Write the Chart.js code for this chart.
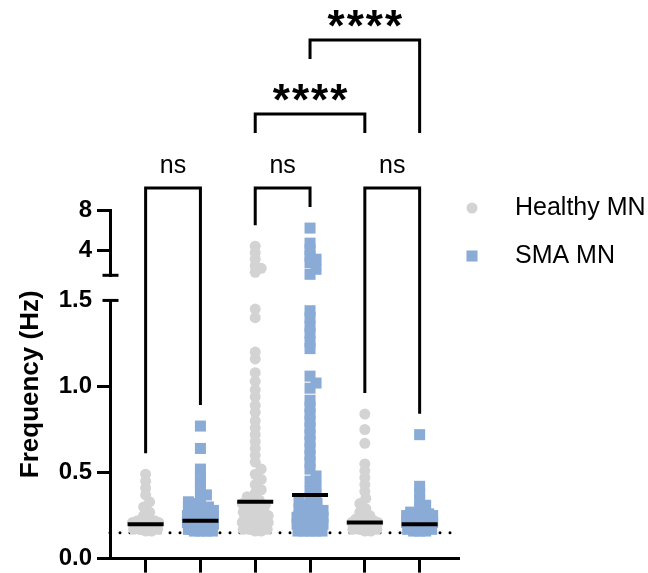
<!DOCTYPE html>
<html lang="en">
<head>
<meta charset="UTF-8">
<title>MN firing frequency</title>
<script src="https://cdn.jsdelivr.net/npm/chart.js@4.4.1/dist/chart.umd.min.js"></script>
<style>
    html, body { margin: 0; background: #ffffff; overflow: hidden; }
    /* 5px taller than the window: the bottom tick label reserves that much below the x axis */
    .chart-box { position: relative; width: 648px; height: 578px; }
</style>
</head>
<body>
<div class="chart-box"><canvas id="freqChart"></canvas></div>
<script>
// Legend entries and which series each x group belongs to
const seriesNames = ['Healthy MN', 'SMA MN'];
const groupSeries = [0, 1, 0, 1, 0, 1];

// Frequency (Hz) of each cell
const healthy1 = [0.49, 0.45, 0.41, 0.37, 0.33, 0.30, 0.27, 0.25, 0.23, 0.22, 0.22, 0.21, 0.21,
    0.20, 0.20, 0.20, 0.19, 0.19, 0.19, 0.18, 0.18, 0.18, 0.18, 0.17, 0.17, 0.17, 0.17, 0.17, 0.16, 0.16];
const sma1 = [0.77, 0.64, 0.52, 0.48, 0.44, 0.40, 0.37, 0.35, 0.33, 0.32, 0.31, 0.30, 0.29, 0.28, 0.28,
    0.27, 0.27, 0.26, 0.26, 0.26, 0.25, 0.25, 0.25, 0.24, 0.24, 0.24, 0.24, 0.23, 0.23, 0.23, 0.23,
    0.22, 0.22, 0.22, 0.22, 0.21, 0.21, 0.21, 0.21, 0.20, 0.20, 0.20, 0.20, 0.20, 0.19, 0.19, 0.19,
    0.19, 0.19, 0.18, 0.18, 0.18, 0.18, 0.18, 0.17, 0.17, 0.17, 0.17, 0.17, 0.16, 0.16, 0.16, 0.16];
const healthy2 = [4.4, 3.75, 3.1, 2.45, 2.2, 1.8,
    1.45, 1.40, 1.20, 1.16, 1.08, 1.03, 0.98, 0.94, 0.89, 0.85, 0.80, 0.76, 0.72, 0.68, 0.64, 0.60,
    0.56, 0.52, 0.49, 0.46, 0.43, 0.40, 0.38, 0.36, 0.34, 0.33, 0.32, 0.31, 0.30, 0.29, 0.28, 0.27,
    0.27, 0.26, 0.26, 0.25, 0.25, 0.24, 0.24, 0.24, 0.23, 0.23, 0.23, 0.22, 0.22, 0.22, 0.21, 0.21,
    0.21, 0.20, 0.20, 0.20, 0.19, 0.19, 0.19, 0.18, 0.18, 0.18, 0.17, 0.17, 0.17, 0.16, 0.16];
const sma2 = [6.2, 4.7, 4.05, 3.4, 3.1, 2.75, 2.1, 1.6,
    1.44, 1.40, 1.35, 1.31, 1.26, 1.22, 1.06, 1.02, 0.99, 0.92, 0.88, 0.84, 0.80, 0.76, 0.72, 0.68,
    0.64, 0.60, 0.56, 0.52, 0.48, 0.45, 0.42, 0.39, 0.37, 0.35, 0.33, 0.32, 0.31, 0.30, 0.29, 0.28,
    0.27, 0.27, 0.26, 0.26, 0.25, 0.25, 0.25, 0.24, 0.24, 0.24, 0.23, 0.23, 0.23, 0.23, 0.22, 0.22,
    0.22, 0.22, 0.21, 0.21, 0.21, 0.21, 0.20, 0.20, 0.20, 0.20, 0.20, 0.19, 0.19, 0.19, 0.19, 0.19,
    0.18, 0.18, 0.18, 0.18, 0.18, 0.17, 0.17, 0.17, 0.17, 0.17, 0.16, 0.16, 0.16, 0.16, 0.16];
const healthy3 = [0.84, 0.75, 0.67, 0.55, 0.51, 0.47, 0.43, 0.39, 0.35, 0.32, 0.29, 0.27, 0.25,
    0.24, 0.23, 0.22, 0.22, 0.21, 0.21, 0.20, 0.20, 0.20, 0.19, 0.19, 0.19, 0.18, 0.18, 0.18,
    0.17, 0.17, 0.17, 0.16, 0.16];
const sma3 = [0.72, 0.42, 0.38, 0.34, 0.31, 0.29, 0.27, 0.26, 0.25, 0.25, 0.24, 0.24, 0.24, 0.23,
    0.23, 0.23, 0.22, 0.22, 0.22, 0.22, 0.21, 0.21, 0.21, 0.21, 0.20, 0.20, 0.20, 0.20, 0.19, 0.19,
    0.19, 0.19, 0.18, 0.18, 0.18, 0.18, 0.17, 0.17, 0.17, 0.17, 0.16, 0.16, 0.16];
const groupValues = [healthy1, sma1, healthy2, sma2, healthy3, sma3];

// Median of each group (black bars)
const medians = [0.20, 0.22, 0.33, 0.37, 0.21, 0.20];

// Dotted detection limit
const detectionLimit = 0.15;

// Broken y axis: lower part 0-1.5, upper part 1.5-8
const breakValue = 1.5;
const lowerTicks = [0, 0.5, 1.0, 1.5];
const upperTicks = [1.5, 4, 8];

// Multiple comparisons: groups compared, bracket level and result
const compareA = [1, 3, 5, 3, 4];
const compareB = [2, 4, 6, 5, 6];
const compareLevel = [0, 0, 0, 1, 2];
const compareLabel = ['ns', 'ns', 'ns', '****', '****'];

const colors = ['#d3d3d3', '#8aabd6'];
const X_MIN = 0.35;
const X_MAX = 6.7;
const FONT = "'Liberation Sans', Arial, Helvetica, sans-serif";

Chart.defaults.font.family = FONT;
Chart.defaults.color = '#000';

// pixel y of a value on whichever part of the broken axis it falls
function yPixel(chart, v) {
    return v > breakValue ? chart.scales.yTop.getPixelForValue(v) : chart.scales.y.getPixelForValue(v);
}

// Spread the points of each group sideways so they do not sit on top of each other
function swarm(chart) {
    const rowPx = 6, colPx = 6, maxSpread = 13;
    const xs = chart.scales.x;
    const pxPerGroup = xs.getPixelForValue(2) - xs.getPixelForValue(1);
    const low = [[], []];
    const high = [[], []];

    groupValues.forEach((vals, gi) => {
        const placed = [];
        vals.slice().sort((a, b) => a - b).forEach(v => {
            const py = yPixel(chart, v);
            const near = placed.filter(p => Math.abs(p.y - py) < rowPx - 0.01);
            let best = 0, bestGap = -1;
            for (let k = 0; k <= 2 * maxSpread; k++) {
                const off = (k % 2 ? 1 : -1) * Math.ceil(k / 2);
                const gap = near.reduce((m, p) => Math.min(m, Math.abs(p.x - off)), Infinity);
                if (gap >= colPx) { best = off; break; }
                if (gap > bestGap) { best = off; bestGap = gap; }
            }
            placed.push({ x: best, y: py });
            const point = { x: gi + 1 + best / pxPerGroup, y: v };
            (v > breakValue ? high : low)[groupSeries[gi]].push(point);
        });
    });
    return { low, high };
}

// Axis title, break caps, comparison brackets and legend
const extrasPlugin = {
    id: 'extras',
    afterDraw(chart) {
        const ctx = chart.ctx;
        const area = chart.chartArea;
        const xs = chart.scales.x;
        ctx.save();

        // y axis title
        ctx.save();
        ctx.translate(31, (area.top + area.bottom) / 2);
        ctx.rotate(-Math.PI / 2);
        ctx.font = 'bold 26px ' + FONT;
        ctx.fillStyle = '#000';
        ctx.textAlign = 'center';
        ctx.textBaseline = 'middle';
        ctx.fillText('Frequency (Hz)', 0, 0);
        ctx.restore();

        // caps at both ends of the axis break
        ctx.strokeStyle = '#000';
        ctx.lineWidth = 3;
        const axisX = area.left + 0.5;
        [chart.scales.y.getPixelForValue(breakValue), chart.scales.yTop.getPixelForValue(breakValue)].forEach(py => {
            ctx.beginPath();
            ctx.moveTo(axisX - 8, py);
            ctx.lineTo(axisX + 8, py);
            ctx.stroke();
        });

        // brackets
        const barY = level => area.top - 22 - 74 * level;
        const groupTop = g => Math.min(...groupValues[g - 1].map(v => yPixel(chart, v)));
        const legEnd = (g, level) => {
            let y = groupTop(g) - 21;
            compareLevel.forEach((l, i) => {
                if (l < level && g >= compareA[i] && g <= compareB[i]) {
                    y = Math.min(y, barY(l) - 55);
                }
            });
            return y;
        };
        compareLabel.forEach((label, i) => {
            const a = compareA[i], b = compareB[i], level = compareLevel[i];
            const xa = xs.getPixelForValue(a), xb = xs.getPixelForValue(b);
            const by = barY(level);
            ctx.beginPath();
            ctx.moveTo(xa, legEnd(a, level));
            ctx.lineTo(xa, by);
            ctx.lineTo(xb, by);
            ctx.lineTo(xb, legEnd(b, level));
            ctx.stroke();

            ctx.fillStyle = '#000';
            ctx.textAlign = 'center';
            if (label === 'ns') {
                ctx.font = '25px ' + FONT;
                ctx.textBaseline = 'alphabetic';
                ctx.fillText(label, (xa + xb) / 2, by - 15);
            } else {
                ctx.font = 'bold 44px ' + FONT;
                ctx.letterSpacing = '2px';
                ctx.textBaseline = 'alphabetic';
                const m = ctx.measureText(label);
                const mid = (m.actualBoundingBoxAscent - m.actualBoundingBoxDescent) / 2;
                ctx.fillText(label, (xa + xb) / 2 + 1, by - 22 + mid);
                ctx.letterSpacing = '0px';
            }
        });

        // legend
        const lx = area.right + 14;
        seriesNames.forEach((name, i) => {
            const ds = chart.data.datasets[i * 2];
            const cy = area.top - 2 + i * 48;
            ctx.fillStyle = ds.backgroundColor;
            Chart.helpers.drawPoint(ctx, {
                pointStyle: ds.pointStyle,
                radius: ds.pointRadius,
                rotation: 0,
                borderWidth: 0
            }, lx, cy);
            ctx.fillStyle = '#000';
            ctx.font = '25px ' + FONT;
            ctx.textAlign = 'left';
            ctx.textBaseline = 'middle';
            ctx.fillText(name, lx + 43, cy);
        });

        ctx.restore();
    }
};

function pointSet(label, series, axis) {
    return {
        label: label,
        data: [],
        yAxisID: axis,
        backgroundColor: colors[series],
        borderColor: colors[series],
        pointStyle: series === 0 ? 'circle' : 'rect',
        pointRadius: series === 0 ? 5.5 : 7.8,
        pointBorderWidth: 0,
        clip: false,
        order: 2
    };
}

const yGrid = {
    drawOnChartArea: false,
    tickLength: 13,
    lineWidth: 3,
    tickColor: c => (c.tick && c.tick.value === breakValue ? 'rgba(0,0,0,0)' : '#000')
};
const yTickFont = { size: 24, weight: 'bold' };

const ctx = document.getElementById('freqChart').getContext('2d');
const chart = new Chart(ctx, {
    type: 'scatter',
    data: {
        datasets: [
            pointSet(seriesNames[0], 0, 'y'),
            pointSet(seriesNames[0], 0, 'yTop'),
            pointSet(seriesNames[1], 1, 'y'),
            pointSet(seriesNames[1], 1, 'yTop'),
            {
                label: 'Median',
                data: medians.map((m, i) => ({ x: i + 1, y: m })),
                yAxisID: 'y',
                pointStyle: 'line',
                pointRadius: 18,
                pointBorderWidth: 4,
                pointBorderColor: '#000',
                borderColor: '#000',
                clip: false,
                order: 0
            },
            {
                type: 'line',
                label: 'Limit',
                data: [{ x: X_MIN, y: detectionLimit }, { x: X_MAX, y: detectionLimit }],
                yAxisID: 'y',
                borderColor: '#000',
                borderWidth: 3,
                borderDash: [0, 10],
                borderCapStyle: 'round',
                pointRadius: 0,
                clip: false,
                order: 3
            }
        ]
    },
    options: {
        responsive: true,
        maintainAspectRatio: false,
        animation: false,
        events: [],
        layout: { autoPadding: false, padding: { top: 210, right: 190, bottom: 0, left: 0 } },
        plugins: {
            legend: { display: false },
            tooltip: { enabled: false }
        },
        scales: {
            x: {
                type: 'linear',
                min: X_MIN,
                max: X_MAX,
                afterBuildTicks: s => { s.ticks = groupSeries.map((_, i) => ({ value: i + 1 })); },
                afterFit: s => { s.height = 16; },
                ticks: { display: false },
                grid: { drawOnChartArea: false, tickLength: 14, lineWidth: 3, tickColor: '#000' },
                border: { width: 3, color: '#000' }
            },
            y: {
                type: 'linear',
                position: 'left',
                stack: 'freq',
                stackWeight: 257,
                weight: 1,
                min: 0,
                max: breakValue,
                afterBuildTicks: s => { s.ticks = lowerTicks.map(v => ({ value: v })); },
                afterFit: s => { s.width = 110; },
                ticks: { font: yTickFont, color: '#000', padding: 5, autoSkip: false, callback: v => Number(v).toFixed(1) },
                grid: yGrid,
                border: { width: 3, color: '#000' }
            },
            yGap: {
                type: 'linear',
                position: 'left',
                stack: 'freq',
                stackWeight: 25,
                weight: 2,
                display: false
            },
            yTop: {
                type: 'linear',
                position: 'left',
                stack: 'freq',
                stackWeight: 65,
                weight: 3,
                min: breakValue,
                max: 8,
                afterBuildTicks: s => { s.ticks = upperTicks.map(v => ({ value: v })); },
                afterFit: s => { s.width = 110; },
                ticks: { font: yTickFont, color: '#000', padding: 5, autoSkip: false, callback: v => (v === breakValue ? '' : String(v)) },
                grid: yGrid,
                border: { width: 3, color: '#000' }
            }
        }
    },
    plugins: [extrasPlugin]
});

// place the dots now that the scales are known
const pts = swarm(chart);
chart.data.datasets[0].data = pts.low[0];
chart.data.datasets[1].data = pts.high[0];
chart.data.datasets[2].data = pts.low[1];
chart.data.datasets[3].data = pts.high[1];
chart.update('none');
</script>
</body>
</html>
